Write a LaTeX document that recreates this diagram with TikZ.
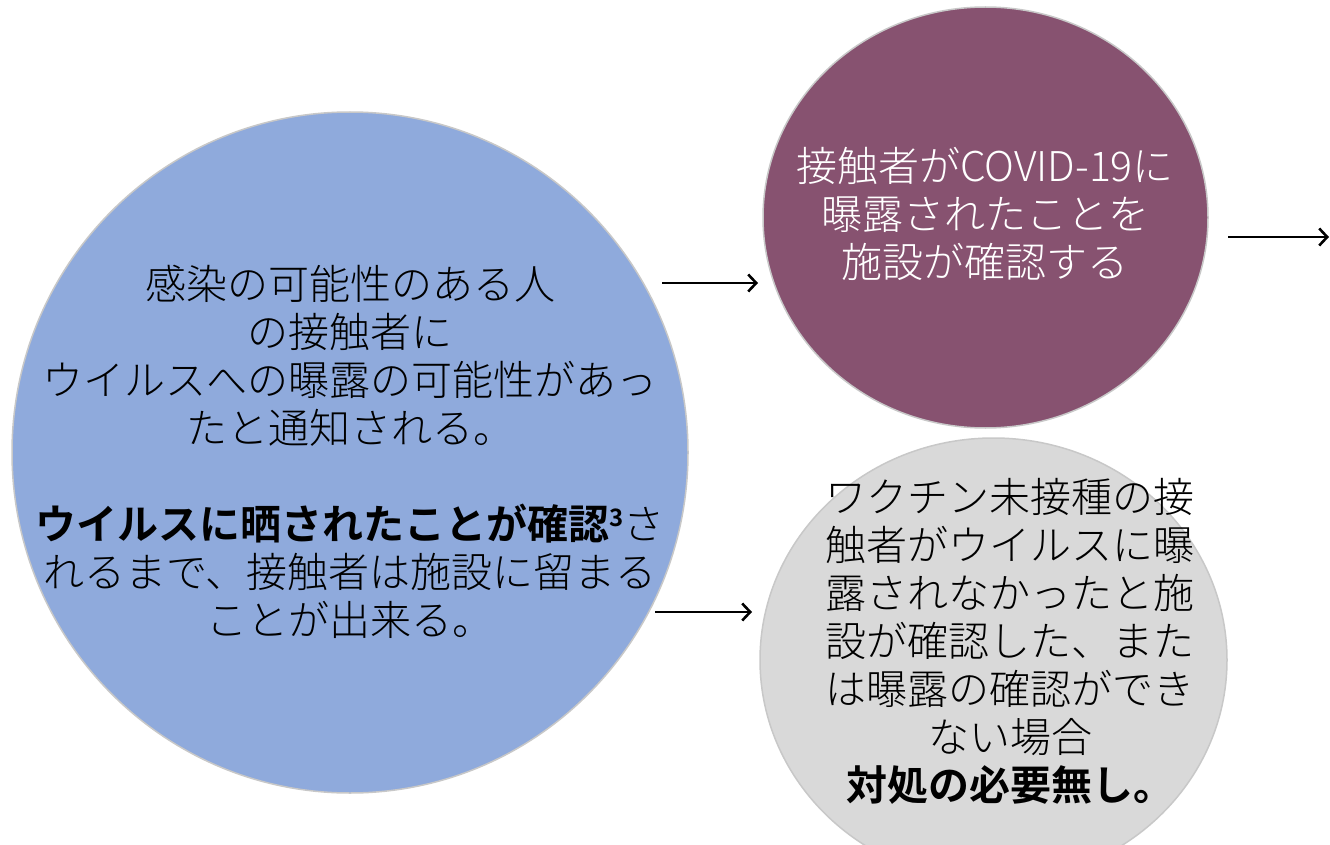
\documentclass[tikz,border=0pt]{standalone}
\usepackage{fontspec}
\setmainfont{Noto Sans CJK JP Light}[BoldFont={Noto Sans CJK JP Bold}]
\usetikzlibrary{arrows.meta}
\definecolor{cblue}{RGB}{143,170,220}
\definecolor{cpurple}{RGB}{135,82,112}
\definecolor{cgray}{RGB}{217,217,217}
\definecolor{cedge}{RGB}{200,200,200}
\tikzset{
  btext/.style={align=center, font=\fontsize{41}{48}\selectfont, inner sep=0pt},
  flow/.style={line width=2.6pt, -{Straight Barb[length=8pt,width=17pt,line width=2.6pt]}},
}
\begin{document}
\begin{tikzpicture}[x=1pt,y=-1pt]
\useasboundingbox (0,0) rectangle (1330,845);
\fill[white] (0,0) rectangle (1330,845);
% circles
\draw[draw=cedge, line width=1.5pt, fill=cblue] (350,452.5) ellipse [x radius=338, y radius=340.5];
\draw[draw=cedge, line width=1.5pt, fill=cpurple] (985.5,217.5) ellipse [x radius=222.5, y radius=210.5];
\draw[draw=cedge, line width=1.5pt, fill=cgray] (993.5,660) ellipse [x radius=233.5, y radius=222];
% texts
\node[btext, text=black] (t1) at (350,452) {感染の可能性のある人\\の接触者に\\ウイルスへの曝露の可能性があっ\\たと通知される。\\[48pt]\textbf{ウイルスに晒されたことが確認\raisebox{13pt}{\fontsize{24}{24}\selectfont 3}}さ\\れるまで、接触者は施設に留まる\\ことが出来る。};
\node[btext, text=white] (t2) at (985,214) {接触者がCOVID-19に\\曝露されたことを\\施設が確認する};
\node[btext, text=black] (t3) at (1010,641) {ワクチン未接種の接\\触者がウイルスに曝\\露されなかったと施\\設が確認した、また\\は曝露の確認ができ\\ない場合\\\textbf{対処の必要無し。}};
% arrows
\coordinate (a1s) at (662,283);
\coordinate (a1e) at (758,283);
\coordinate (a2s) at (655,612);
\coordinate (a2e) at (752,612);
\coordinate (a3s) at (1228,237);
\coordinate (a3e) at (1329,237);
\draw[flow] (a1s) -- (a1e);
\draw[flow] (a2s) -- (a2e);
\draw[flow] (a3s) -- (a3e);
\end{tikzpicture}
\end{document}
